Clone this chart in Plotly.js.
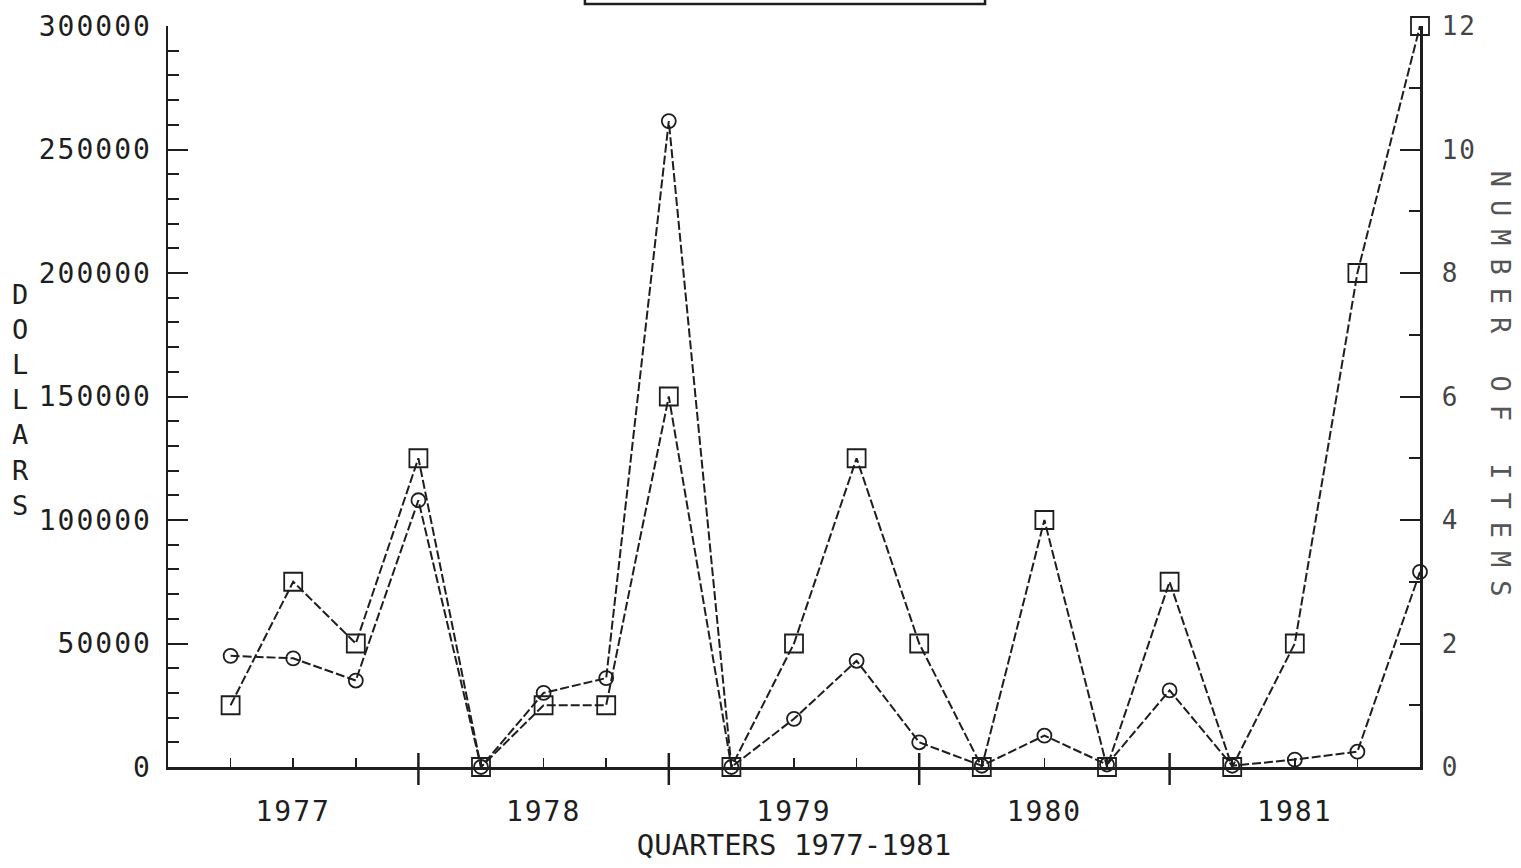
<!DOCTYPE html>
<html><head><meta charset="utf-8">
<script src="https://cdn.plot.ly/plotly-3.0.1.min.js"></script>
<style>
html,body{margin:0;padding:0;background:#fff;}
#chart{width:1521px;height:868px;}
.xtick text,.ytick text,.y2tick text{letter-spacing:2px;}
</style></head><body><div id="chart"></div>
<script>
const quarterIndex = [1,2,3,4,5,6,7,8,9,10,11,12,13,14,15,16,17,18,19,20];
const quarterLabels = ['1977 Q1','1977 Q2','1977 Q3','1977 Q4','1978 Q1','1978 Q2','1978 Q3','1978 Q4',
  '1979 Q1','1979 Q2','1979 Q3','1979 Q4','1980 Q1','1980 Q2','1980 Q3','1980 Q4',
  '1981 Q1','1981 Q2','1981 Q3','1981 Q4'];
const dollars = [45000,44000,35000,108000,0,30000,36000,261500,0,19500,43000,10000,500,12700,1000,31000,500,3000,6200,79000];
const items   = [1,3,2,5,0,1,1,6,0,2,5,2,0,4,0,3,0,2,8,12];

const FONT = '"DejaVu Sans Mono", "Liberation Mono", monospace';
const INK = '#1e1e1e';

const tickText = quarterLabels.map(q => q.endsWith('Q2') ? q.split(' ')[0] : '');

const yearTicks = [];
quarterLabels.forEach((q, i) => {
  if (q.endsWith('Q4') && i < quarterLabels.length - 1) {
    yearTicks.push({type:'line', xref:'x', yref:'paper', ysizemode:'pixel', yanchor:0,
      x0: quarterIndex[i], x1: quarterIndex[i], y0: -18, y1: 14,
      line:{color:INK, width:2.5}});
  }
});

const traces = [
  {x: quarterIndex, y: dollars, name:'Dollars', type:'scatter', mode:'lines+markers', yaxis:'y',
   cliponaxis:false,
   line:{color:INK, width:2, dash:'9px,3px'},
   marker:{symbol:'circle-open', size:14, color:INK, line:{width:1.8, color:INK}}},
  {x: quarterIndex, y: items, name:'Number of items', type:'scatter', mode:'lines+markers', yaxis:'y2',
   cliponaxis:false,
   line:{color:INK, width:2, dash:'9px,3px'},
   marker:{symbol:'square-open', size:18, color:INK, line:{width:1.8, color:INK}}}
];

const layout = {
  width:1521, height:868,
  margin:{l:168, r:101, t:26, b:101},
  paper_bgcolor:'#ffffff', plot_bgcolor:'rgba(0,0,0,0)',
  showlegend:false,
  font:{family:FONT, color:INK, size:28},
  xaxis:{range:[0,20], tickmode:'array', tickvals:quarterIndex, ticktext:tickText,
    ticks:'inside', ticklen:9, tickwidth:1.5, tickcolor:INK,
    showgrid:false, zeroline:false, showline:true, linecolor:INK, linewidth:2.5,
    ticklabelstandoff:18,
    tickfont:{family:FONT, size:28, color:INK},
    title:{text:'QUARTERS 1977-1981', font:{family:FONT, size:29, color:INK}, standoff:0}},
  yaxis:{range:[0,300000], dtick:50000, tick0:0, tickformat:'d',
    ticks:'inside', ticklen:20, tickwidth:2, tickcolor:INK,
    minor:{dtick:10000, ticks:'inside', ticklen:11, tickwidth:2, tickcolor:INK, showgrid:false},
    showgrid:false, zeroline:false, showline:true, linecolor:INK, linewidth:2.5,
    ticklabelstandoff:8,
    tickfont:{family:FONT, size:28, color:INK}},
  yaxis2:{range:[0,12], dtick:2, tick0:0, overlaying:'y', side:'right',
    ticks:'inside', ticklen:20, tickwidth:2, tickcolor:INK,
    minor:{dtick:1, ticks:'inside', ticklen:11, tickwidth:2, tickcolor:INK, showgrid:false},
    showgrid:false, zeroline:false, showline:true, linecolor:INK, linewidth:2.5,
    ticklabelstandoff:14,
    tickfont:{family:FONT, size:26, color:'#444'}},
  shapes: yearTicks.concat([
    {type:'rect', xref:'paper', yref:'paper', ysizemode:'pixel', yanchor:1,
     x0:0.333, x1:0.6526, y0:22, y1:60, line:{color:INK, width:2.5}, fillcolor:'rgba(0,0,0,0)'}
  ]),
  annotations:[
    {text:'D<br>O<br>L<br>L<br>A<br>R<br>S', xref:'paper', yref:'paper',
     x:-0.118, y:0.495, xanchor:'center', yanchor:'middle', showarrow:false,
     font:{family:FONT, size:27, color:INK}},
    {text:'<span style="letter-spacing:13px">NUMBER OF ITEMS</span>', xref:'paper', yref:'paper',
     x:1.064, y:0.509, xanchor:'center', yanchor:'middle', textangle:90, showarrow:false,
     font:{family:FONT, size:27, color:'#555'}}
  ]
};

Plotly.newPlot('chart', traces, layout, {displayModeBar:false, staticPlot:true});
</script></body></html>
